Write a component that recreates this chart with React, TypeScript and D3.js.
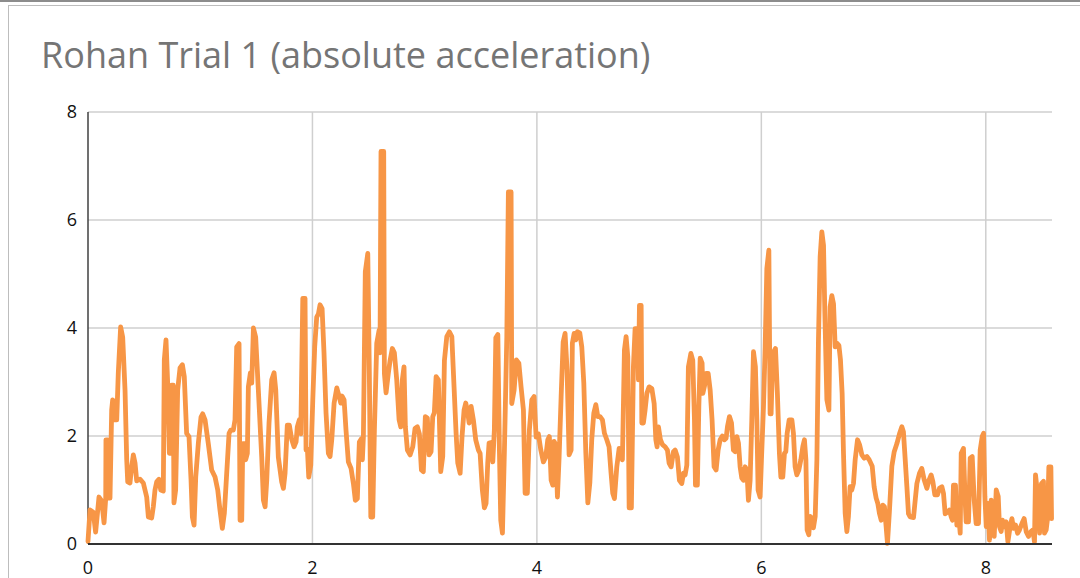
import React from "react";
import * as d3 from "d3";

const chartTitle = "Rohan Trial 1 (absolute acceleration)";
const yTicks = [0, 2, 4, 6, 8];
const xTicks = [0, 2, 4, 6, 8];
const xMax = 8.59;
const yMax = 8;

// [time (s), absolute acceleration]
const trace0: [number, number][] = [
  [0.0, 0.05], [0.018, 0.63], [0.047, 0.59], [0.068, 0.22], [0.098, 0.87], [0.122, 0.8],
  [0.143, 0.39], [0.158, 0.85], [0.16, 1.93], [0.175, 1.93], [0.181, 0.85], [0.196, 0.85],
  [0.211, 2.48], [0.22, 2.67], [0.235, 2.3], [0.256, 2.3], [0.27, 3.17], [0.291, 4.02],
  [0.309, 3.83], [0.33, 2.85], [0.345, 1.56], [0.354, 1.15], [0.374, 1.13], [0.389, 1.43],
  [0.404, 1.65], [0.419, 1.5], [0.434, 1.17], [0.463, 1.2], [0.493, 1.13], [0.523, 0.87],
  [0.538, 0.5], [0.567, 0.48], [0.582, 0.69], [0.597, 1.0], [0.612, 1.15], [0.633, 1.2],
  [0.648, 1.0], [0.671, 0.98], [0.68, 3.41], [0.695, 3.78], [0.71, 2.98], [0.725, 1.68],
  [0.74, 1.68], [0.746, 2.94], [0.76, 2.94], [0.766, 0.76], [0.781, 1.0], [0.799, 2.85],
  [0.82, 3.26], [0.841, 3.32], [0.858, 3.1], [0.879, 2.05], [0.9, 1.99], [0.918, 1.19],
  [0.93, 0.5], [0.945, 0.35], [0.96, 1.24], [0.983, 1.86], [1.007, 2.35], [1.022, 2.41],
  [1.043, 2.3], [1.072, 1.86], [1.102, 1.37], [1.132, 1.24], [1.156, 1.0], [1.176, 0.63],
  [1.197, 0.29], [1.215, 0.57], [1.236, 1.31], [1.257, 2.05], [1.272, 2.11], [1.295, 2.11],
  [1.31, 2.3], [1.325, 3.65], [1.346, 3.71], [1.355, 0.44], [1.37, 0.44], [1.379, 1.86],
  [1.399, 1.86], [1.405, 1.56], [1.42, 1.68], [1.429, 2.91], [1.447, 3.17], [1.459, 2.98],
  [1.474, 4.0], [1.494, 3.83], [1.518, 2.85], [1.548, 1.61], [1.563, 0.81], [1.578, 0.69],
  [1.593, 1.19], [1.613, 2.24], [1.637, 3.04], [1.658, 3.17], [1.673, 2.85], [1.696, 1.61],
  [1.726, 1.15], [1.741, 1.03],
];

const trace1: [number, number][] = [
  [1.756, 1.31], [1.776, 2.2], [1.794, 2.2], [1.816, 1.93], [1.836, 1.8], [1.854, 1.89],
  [1.865, 2.17], [1.883, 2.3], [1.896, 2.04], [1.914, 4.55], [1.934, 4.55], [1.943, 1.74],
  [1.955, 1.76], [1.967, 1.24], [1.985, 1.46], [2.003, 2.67], [2.02, 3.65], [2.038, 4.2],
  [2.053, 4.26], [2.068, 4.43], [2.086, 4.36], [2.103, 3.54], [2.121, 2.43], [2.142, 1.68],
  [2.157, 1.62], [2.172, 1.93], [2.193, 2.61], [2.217, 2.89], [2.237, 2.74], [2.252, 2.61],
  [2.264, 2.74], [2.282, 2.67], [2.299, 2.11], [2.32, 1.52], [2.344, 1.4], [2.365, 1.12],
  [2.382, 0.81], [2.4, 0.84], [2.418, 1.89], [2.436, 1.95], [2.445, 1.56], [2.454, 1.99],
  [2.471, 5.04], [2.493, 5.38], [2.507, 3.16], [2.52, 0.5], [2.537, 0.5], [2.552, 2.11],
  [2.573, 3.72], [2.594, 3.96], [2.602, 3.54], [2.611, 7.27], [2.635, 7.27], [2.641, 3.16],
  [2.656, 2.8], [2.676, 3.16], [2.692, 3.4], [2.712, 3.62], [2.73, 3.54], [2.751, 3.04],
  [2.772, 2.3], [2.787, 2.17], [2.801, 3.04], [2.816, 3.28], [2.828, 2.17], [2.846, 1.74],
  [2.87, 1.65], [2.894, 1.8], [2.914, 2.14], [2.935, 2.17], [2.953, 2.04], [2.971, 1.37],
  [2.988, 1.34], [3.006, 2.36], [3.024, 2.33], [3.039, 1.65], [3.057, 1.71], [3.072, 2.36],
  [3.086, 2.43], [3.102, 3.1], [3.122, 3.04], [3.143, 1.34], [3.161, 1.62], [3.176, 3.4],
  [3.197, 3.84], [3.22, 3.93], [3.242, 3.84], [3.262, 2.9], [3.28, 2.05], [3.295, 1.5],
  [3.316, 1.31], [3.333, 1.99], [3.351, 2.48], [3.366, 2.61], [3.384, 2.43], [3.396, 2.24],
  [3.414, 2.55], [3.434, 2.3], [3.455, 1.93], [3.479, 1.74],
];

const trace2: [number, number][] = [
  [3.494, 1.68], [3.514, 1.0], [3.532, 0.67], [3.547, 0.75], [3.562, 1.5], [3.574, 1.87],
  [3.592, 1.88], [3.607, 1.52], [3.621, 2.11], [3.634, 3.82], [3.652, 3.88], [3.666, 1.74],
  [3.678, 0.44], [3.693, 0.2], [3.71, 1.68], [3.732, 3.84], [3.746, 6.52], [3.77, 6.52],
  [3.776, 2.6], [3.797, 2.85], [3.817, 3.41], [3.839, 3.35], [3.859, 2.91], [3.88, 2.48],
  [3.895, 0.94], [3.915, 0.94], [3.933, 2.11], [3.955, 2.67], [3.975, 2.73], [3.993, 1.98],
  [4.013, 2.04], [4.035, 1.74], [4.058, 1.52], [4.079, 1.61], [4.097, 1.93], [4.111, 1.99],
  [4.127, 1.18], [4.142, 1.09], [4.153, 1.9], [4.168, 1.84], [4.183, 0.87], [4.198, 1.61],
  [4.216, 2.73], [4.234, 3.74], [4.251, 3.9], [4.269, 3.22], [4.287, 1.65], [4.305, 1.74],
  [4.316, 3.72], [4.332, 3.9], [4.347, 3.78], [4.361, 3.93], [4.382, 3.91], [4.4, 3.65],
  [4.418, 2.98], [4.436, 1.69], [4.454, 0.76], [4.472, 1.14], [4.489, 1.94], [4.507, 2.42],
  [4.525, 2.58], [4.543, 2.36], [4.563, 2.36], [4.584, 2.3], [4.602, 2.05], [4.623, 1.93],
  [4.643, 1.8], [4.661, 1.31], [4.676, 0.94], [4.691, 0.84], [4.712, 1.43], [4.733, 1.77],
  [4.748, 1.74], [4.762, 1.56], [4.78, 3.59], [4.795, 3.84], [4.81, 3.47], [4.822, 0.67],
  [4.842, 0.67], [4.86, 3.28], [4.875, 3.99], [4.896, 3.99], [4.905, 3.04], [4.914, 4.42],
  [4.929, 4.42], [4.935, 2.24], [4.949, 2.24], [4.964, 2.48], [4.98, 2.79], [5.0, 2.91],
  [5.024, 2.88], [5.045, 2.6], [5.06, 1.93], [5.071, 1.8], [5.083, 2.17], [5.101, 1.93],
  [5.119, 1.84], [5.143, 1.8], [5.163, 1.74], [5.178, 1.5], [5.196, 1.43], [5.217, 1.71],
];

const trace3: [number, number][] = [
  [5.232, 1.74], [5.252, 1.61], [5.27, 1.18], [5.291, 1.12], [5.306, 1.31], [5.321, 1.28],
  [5.336, 1.46], [5.35, 3.28], [5.372, 3.53], [5.389, 3.4], [5.404, 2.3], [5.413, 1.09],
  [5.43, 1.09], [5.443, 2.54], [5.455, 3.44], [5.472, 3.35], [5.479, 2.79], [5.493, 2.92],
  [5.508, 3.16], [5.526, 3.16], [5.544, 2.85], [5.561, 2.3], [5.579, 1.43], [5.597, 1.37],
  [5.615, 1.74], [5.633, 1.93], [5.653, 2.0], [5.671, 1.93], [5.686, 1.96], [5.698, 2.17],
  [5.716, 2.36], [5.734, 2.24], [5.751, 1.74], [5.767, 1.71], [5.782, 1.99], [5.796, 1.87],
  [5.811, 1.43], [5.826, 1.22], [5.841, 1.18], [5.856, 1.43], [5.871, 1.37], [5.885, 0.81],
  [5.9, 1.18], [5.915, 2.3], [5.93, 3.56], [5.947, 3.28], [5.96, 2.3], [5.971, 1.0],
  [5.989, 0.87], [6.001, 1.56], [6.019, 2.54], [6.034, 3.65], [6.049, 5.1], [6.067, 5.44],
  [6.078, 2.41], [6.087, 2.41], [6.102, 3.53], [6.126, 3.62], [6.143, 2.79], [6.161, 1.68],
  [6.174, 1.24], [6.191, 1.24], [6.206, 1.68], [6.218, 1.71], [6.23, 2.05], [6.248, 2.3],
  [6.272, 2.3], [6.286, 2.05], [6.301, 1.43], [6.316, 1.28], [6.334, 1.37], [6.352, 1.56],
  [6.37, 1.81], [6.384, 1.93], [6.397, 1.56], [6.408, 0.26], [6.423, 0.17], [6.435, 0.51],
  [6.45, 0.48], [6.464, 0.3], [6.48, 0.51], [6.495, 1.56], [6.509, 3.78], [6.524, 5.32],
  [6.539, 5.78], [6.554, 5.53], [6.566, 4.27], [6.584, 2.67], [6.602, 2.48], [6.613, 4.39],
  [6.628, 4.6], [6.643, 4.45], [6.658, 3.65], [6.673, 3.72], [6.691, 3.68], [6.705, 3.41],
  [6.72, 2.79], [6.732, 1.68], [6.747, 0.57], [6.762, 0.23], [6.776, 0.51], [6.791, 1.06],
  [6.806, 1.0], [6.821, 1.12], [6.836, 1.56], [6.857, 1.93], [6.875, 1.84], [6.896, 1.65],
  [6.916, 1.59], [6.94, 1.62], [6.961, 1.56],
];

const trace4: [number, number][] = [
  [6.988, 1.44], [7.005, 1.06], [7.023, 0.85], [7.038, 0.75], [7.053, 0.56], [7.068, 0.44],
  [7.083, 0.72], [7.097, 0.69], [7.112, 0.32], [7.124, 0.01], [7.142, 0.63], [7.163, 1.44],
  [7.184, 1.71], [7.208, 1.86], [7.231, 2.04], [7.252, 2.17], [7.266, 2.08], [7.282, 1.56],
  [7.297, 1.06], [7.311, 0.56], [7.326, 0.5], [7.356, 0.49], [7.371, 0.81], [7.386, 1.12],
  [7.409, 1.31], [7.43, 1.4], [7.451, 1.19], [7.475, 1.03], [7.496, 1.19], [7.513, 1.28],
  [7.528, 1.16], [7.546, 0.91], [7.57, 0.91], [7.587, 1.03], [7.609, 1.06], [7.623, 0.94],
  [7.638, 0.56], [7.659, 0.59], [7.676, 0.63], [7.692, 0.5], [7.703, 0.44], [7.712, 1.09],
  [7.73, 1.09], [7.742, 0.35], [7.76, 0.5], [7.772, 0.2], [7.781, 1.68], [7.801, 1.77],
  [7.816, 0.81], [7.825, 0.41], [7.846, 0.41], [7.861, 1.59], [7.879, 1.62], [7.897, 0.81],
  [7.914, 0.38], [7.935, 0.38], [7.95, 1.74], [7.968, 1.99], [7.98, 2.05], [7.992, 0.88],
  [8.004, 0.32], [8.019, 0.75], [8.033, 0.07], [8.048, 0.81], [8.06, 0.69], [8.075, 0.14],
  [8.093, 1.0], [8.111, 0.88], [8.122, 0.32], [8.137, 0.23], [8.149, 0.44], [8.164, 0.32],
  [8.182, 0.41], [8.197, 0.04], [8.217, 0.32], [8.233, 0.47], [8.247, 0.29], [8.265, 0.35],
  [8.283, 0.2], [8.3, 0.26], [8.322, 0.38], [8.342, 0.47], [8.36, 0.23], [8.381, 0.14],
  [8.402, 0.23], [8.42, 0.26], [8.434, 0.04], [8.443, 1.28], [8.461, 0.94], [8.474, 0.69],
  [8.479, 0.2], [8.496, 1.12], [8.514, 1.16], [8.523, 0.2], [8.538, 0.26], [8.55, 0.47],
  [8.562, 1.43], [8.58, 1.43], [8.586, 0.47],
];

const trace = [...trace0, ...trace1, ...trace2, ...trace3, ...trace4];

export default function App() {
  const width = 1080;
  const height = 578;
  const plot = { left: 88, right: 1052, top: 112, bottom: 544 };

  const x = d3.scaleLinear().domain([0, xMax]).range([plot.left, plot.right]);
  const y = d3.scaleLinear().domain([0, yMax]).range([plot.bottom, plot.top]);

  const line = d3
    .line<[number, number]>()
    .x((d) => x(d[0]))
    .y((d) => y(d[1]));

  const titleFont = "'Open Sans', Lato, sans-serif";
  const tickFont = "'Open Sans', Lato, sans-serif";

  return (
    <svg
      width={width}
      height={height}
      style={{ position: "absolute", left: 0, top: 0, background: "#fff" }}
    >
      {/* outer frame */}
      <rect x={0} y={0} width={width} height={2} fill="#8c8c8c" />
      <rect x={8.5} y={5.5} width={width + 20} height={height + 20} fill="none" stroke="#bdbdbd" />

      <text x={41} y={68} fontFamily={titleFont} fontSize={36} fill="#757575">
        {chartTitle}
      </text>

      {/* gridlines */}
      {yTicks.filter((t) => t > 0).map((t) => (
        <line key={"gy" + t} x1={plot.left} x2={plot.right} y1={y(t)} y2={y(t)} stroke="#cfcfcf" strokeWidth={1.5} />
      ))}
      {xTicks.filter((t) => t > 0).map((t) => (
        <line key={"gx" + t} x1={x(t)} x2={x(t)} y1={plot.top} y2={plot.bottom} stroke="#cfcfcf" strokeWidth={1.5} />
      ))}

      {/* axes */}
      <line x1={plot.left} x2={plot.left} y1={plot.top} y2={plot.bottom} stroke="#404040" strokeWidth={1.5} />

      <path
        d={line(trace) || ""}
        fill="none"
        stroke="#f79646"
        strokeWidth={4.8}
        strokeLinejoin="round"
        strokeLinecap="round"
      />

      <line x1={plot.left} x2={plot.right} y1={plot.bottom} y2={plot.bottom} stroke="#333" strokeWidth={2} />

      {yTicks.map((t) => (
        <text key={"ly" + t} x={77} y={y(t)} dy="0.36em" textAnchor="end" fontFamily={tickFont} fontSize={18} fill="#111">
          {t}
        </text>
      ))}
      {xTicks.map((t) => (
        <text key={"lx" + t} x={x(t)} y={574} textAnchor="middle" fontFamily={tickFont} fontSize={18} fill="#111">
          {t}
        </text>
      ))}
    </svg>
  );
}
